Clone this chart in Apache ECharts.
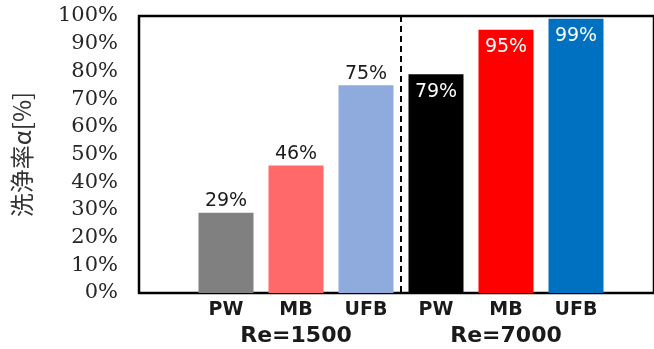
<!DOCTYPE html>
<html>
<head>
<meta charset="utf-8">
<script src="https://cdn.jsdelivr.net/npm/echarts@6/dist/echarts.min.js"></script>
<style>
  html, body { margin: 0; padding: 0; background: #fff; }
  #chart { width: 654px; height: 349px; }
</style>
</head>
<body>
<div id="chart"></div>
<script>
// Cleaning rate by water type at two Reynolds numbers
const methods = ['PW', 'MB', 'UFB', 'PW', 'MB', 'UFB'];
const reGroups = ['Re=1500', 'Re=7000'];
const cleaningRate = [29, 46, 75, 79, 95, 99];
const barColors = ['#808080', '#FF6969', '#8FAADC', '#000000', '#FF0000', '#0070C0'];
const yTicks = [0, 10, 20, 30, 40, 50, 60, 70, 80, 90, 100];

const chart = echarts.init(document.getElementById('chart'), null, { renderer: 'canvas' });

const barData = cleaningRate.map((v, i) => {
  const inside = i >= 3;
  return {
    value: v,
    itemStyle: { color: barColors[i] },
    label: inside
      ? { position: 'insideTop', distance: 8, color: '#ffffff' }
      : { position: 'top', distance: 2, color: '#1a1a1a' }
  };
});

chart.setOption({
  animation: false,
  grid: [
    { left: 139, right: -6, top: 16, bottom: 56, show: true, borderColor: '#000', borderWidth: 2.5, backgroundColor: 'transparent' },
    { left: 191, width: 420, top: 16, bottom: 56 }
  ],
  xAxis: [
    { gridIndex: 0, type: 'value', min: 0, max: 1, show: false },
    {
      gridIndex: 1, type: 'category', data: methods,
      axisLine: { show: false }, axisTick: { show: false },
      axisLabel: { margin: 8, fontFamily: 'DejaVu Sans', fontWeight: 'bold', fontSize: 19, color: '#1a1a1a' }
    },
    {
      gridIndex: 1, type: 'category', data: reGroups, position: 'bottom',
      axisLine: { show: false }, axisTick: { show: false },
      axisLabel: { margin: 32, fontFamily: 'DejaVu Sans', fontWeight: 'bold', fontSize: 22, color: '#1a1a1a' },
      splitLine: { show: true, showMinLine: false, showMaxLine: false, lineStyle: { color: '#000', width: 2, type: [6, 4] } }
    }
  ],
  yAxis: [
    {
      gridIndex: 0, type: 'value', min: yTicks[0], max: yTicks[yTicks.length - 1], interval: 10,
      axisLine: { show: false }, axisTick: { show: false }, splitLine: { show: false },
      axisLabel: { formatter: '{value}%', margin: 21, fontFamily: '"DejaVu Serif", serif', fontSize: 21, color: '#262626' },
      name: '洗浄率α[%]', nameLocation: 'middle', nameGap: 105, nameRotate: 90,
      nameTextStyle: { fontFamily: '"Noto Sans CJK JP"', fontSize: 24, color: '#333' }
    },
    { gridIndex: 1, type: 'value', min: 0, max: 100, show: false }
  ],
  series: [{
    type: 'bar', xAxisIndex: 1, yAxisIndex: 1,
    barWidth: 55,
    data: barData,
    label: { show: true, formatter: '{c}%', fontFamily: 'DejaVu Sans', fontWeight: 'normal', fontSize: 19 }
  }]
});
</script>
</body>
</html>
